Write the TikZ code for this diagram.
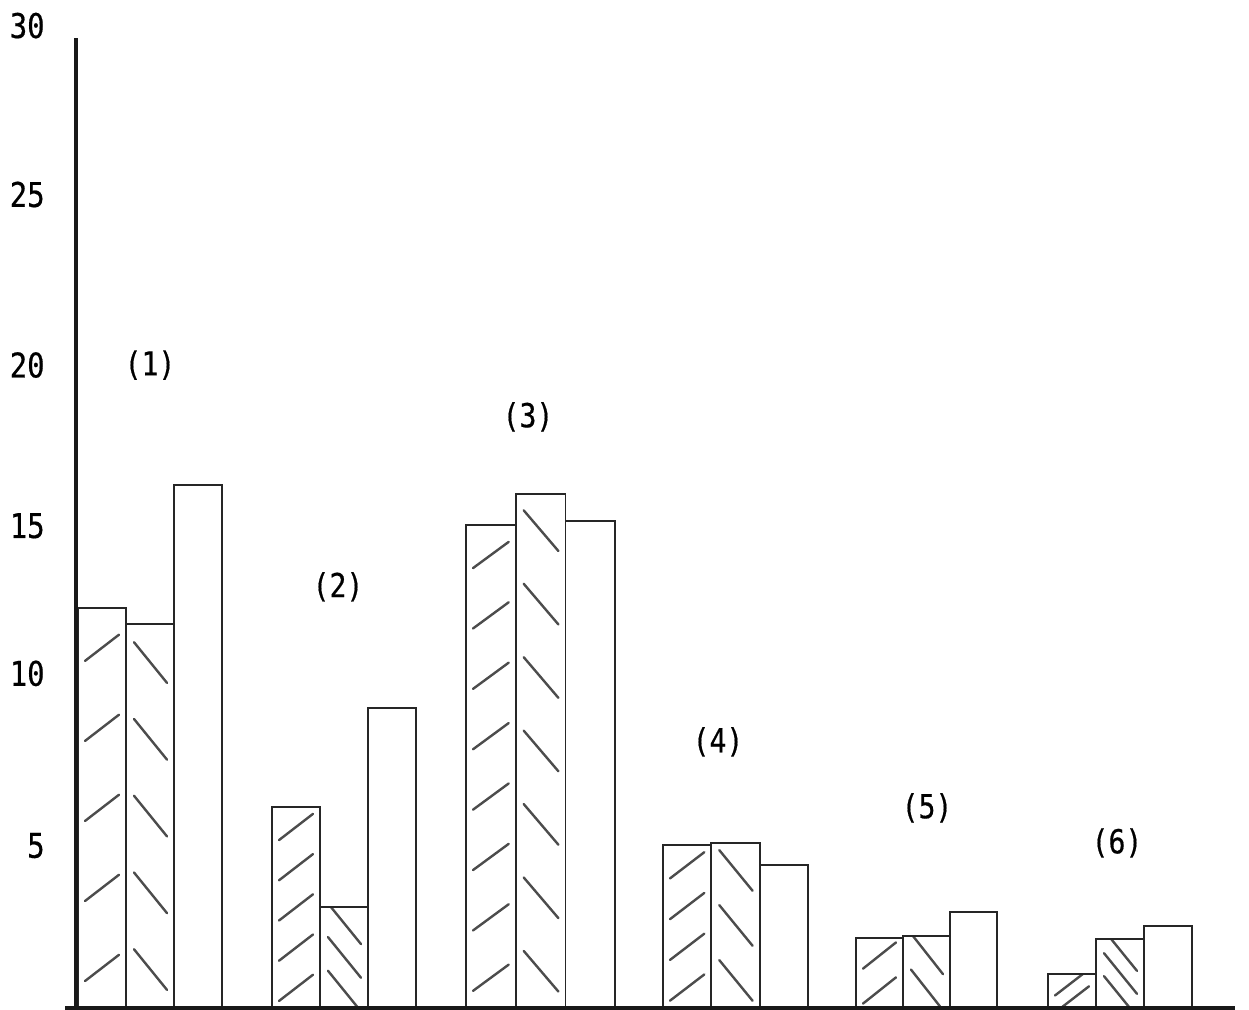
\documentclass[tikz,border=0pt]{standalone}
\usepackage{fontspec}
\newfontfamily\typed[FakeStretch=0.85,FakeBold=0.5]{DejaVu Sans Mono}

\begin{document}
\begin{tikzpicture}[x=0.5pt,y=16.4pt]
\tikzset{axis/.style={line width=1.6pt, black!90},
         bar/.style={draw, line width=0.9pt, black!85},
         hatch/.style={line width=1.2pt, black!70, line cap=round},
         tick label/.style={font=\fontsize{17}{19}\selectfont\typed, anchor=east, inner sep=0pt},
         group label/.style={font=\fontsize{16.5}{19}\selectfont\typed, inner sep=0pt}}
\useasboundingbox (0,-0.061) rectangle (1249,30.73);
% bars: group, left edge, bar width, heights of the three bars, strokes in the two hatched ones
\foreach \g/\xs/\w/\ha/\hb/\hc/\na/\nb in {1/78/48/12.2/11.7/15.95/5/5,
        2/272/48/6.13/3.08/9.15/5/3, 3/466/49.7/14.73/15.67/14.85/8/7,
        4/663/48.3/4.97/5.03/4.36/4/3, 5/856/47/2.13/2.2/2.93/2/2,
        6/1048/48/1.04/2.1/2.5/2/3}
{
    \pgfmathsetmacro\xa{\xs}
    \pgfmathsetmacro\xb{\xa+\w}
    \pgfmathsetmacro\xc{\xa+2*\w}
    \pgfmathsetmacro\xd{\xa+3*\w}
    % first bar, hatched /
    \begin{scope}
        \clip (\xa,0) rectangle (\xb,\ha);
        \foreach \i in {1,...,\na}
            \draw[hatch] (\xa+7,{\ha*(\i-0.5)/\na-0.4}) -- ++(\w-14,0.8);
    \end{scope}
    % second bar, hatched \
    \begin{scope}
        \clip (\xb,0) rectangle (\xc,\hb);
        \foreach \i in {1,...,\nb}
            \draw[hatch] (\xb+8,{\hb*(\i-0.5)/\nb+0.62}) -- ++(\w-15,-1.24);
    \end{scope}
    \draw[bar] (\xa,0) rectangle (\xb,\ha);
    \draw[bar] (\xb,0) rectangle (\xc,\hb);
    \draw[bar] (\xc,0) rectangle (\xd,\hc);
}
% axes
\coordinate (origin) at (76,0);
\coordinate (ytop) at (76,29.57);
\coordinate (xleft) at (65,0);
\coordinate (xright) at (1235,0);
\draw[axis] (origin) -- (ytop);
\draw[axis] (xleft) -- (xright);
% scale, typed by hand so not quite on the ticks
\foreach \t/\y in {5/4.95,10/10.2,15/14.7,20/19.6,25/24.8,30/29.95}
    \node[tick label] (tick\t) at (45,\y) {\t};
% group numbers
\foreach \g/\lx/\ly in {1/150/19.6, 2/338/12.84, 3/528/18.02,
        4/718/8.11, 5/927/6.1, 6/1117/5.03}
    \node[group label] (group\g) at (\lx,\ly) {(\g)};
\end{tikzpicture}
\end{document}
